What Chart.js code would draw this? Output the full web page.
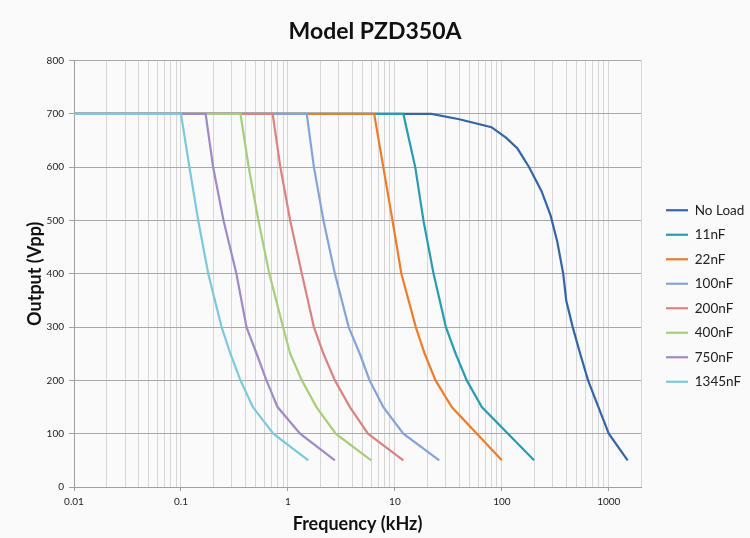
<!DOCTYPE html>
<html>
<head>
<meta charset="utf-8">
<script src="https://cdn.jsdelivr.net/npm/chart.js@4.4.1/dist/chart.umd.min.js"></script>
<style>
  html, body { margin: 0; padding: 0; background: #fafafa; }
  #wrap { width: 750px; height: 538px; position: relative; }
</style>
</head>
<body>
<div id="wrap"><canvas id="freqchart"></canvas></div>
<script>
// frequency (kHz) / output (Vpp)
var noLoadFreq = [0.01, 22, 40, 80, 110, 140, 180, 235, 285, 330, 375, 400, 460, 540, 640, 800, 1000, 1500];
var noLoadVpp  = [700, 700, 690, 675, 655, 635, 600, 555, 510, 460, 400, 350, 300, 250, 200, 150, 100, 50];

var nf11Freq = [0.01, 12, 15.5, 18.5, 23, 30, 37, 47, 65, 200];
var nf11Vpp  = [700, 700, 600, 500, 400, 300, 250, 200, 150, 50];

var nf22Freq = [0.01, 6.4, 7.8, 9.5, 11.5, 15.7, 19, 24, 34, 100];
var nf22Vpp  = [700, 700, 600, 500, 400, 300, 250, 200, 150, 50];

var nf100Freq = [0.01, 1.5, 1.75, 2.15, 2.75, 3.7, 4.7, 5.8, 7.8, 12, 26];
var nf200Freq = [0.01, 0.72, 0.85, 1.05, 1.35, 1.75, 2.15, 2.75, 3.8, 5.6, 12];
var nf400Freq = [0.01, 0.36, 0.43, 0.53, 0.67, 0.9, 1.05, 1.35, 1.85, 2.8, 6];
var nf750Freq = [0.01, 0.17, 0.2, 0.25, 0.33, 0.41, 0.51, 0.63, 0.8, 1.3, 2.75];
var nf1345Freq = [0.01, 0.1, 0.12, 0.145, 0.18, 0.24, 0.29, 0.36, 0.47, 0.73, 1.55];
var capVpp = [700, 700, 600, 500, 400, 300, 250, 200, 150, 100, 50];

var seriesNames = ["No Load", "11nF", "22nF", "100nF", "200nF", "400nF", "750nF", "1345nF"];
var seriesColors = ["#3465a4", "#2a9cb2", "#ee7d2b", "#86a4d9", "#da8482", "#a8cd7c", "#9e8bc5", "#7ec8dd"];

var xMin = 0.01, xMax = 2000;
var yMin = 0, yMax = 800, yStep = 100;

(function () {
    var canvas = document.getElementById('freqchart');

    var freqs = [noLoadFreq, nf11Freq, nf22Freq, nf100Freq, nf200Freq, nf400Freq, nf750Freq, nf1345Freq];
    var vpps = [noLoadVpp, nf11Vpp, nf22Vpp, capVpp, capVpp, capVpp, capVpp, capVpp];

    var datasets = seriesNames.map(function (name, i) {
        return {
            label: name,
            data: freqs[i].map(function (f, j) { return {x: f, y: vpps[i][j]}; }),
            borderColor: seriesColors[i],
            backgroundColor: seriesColors[i],
            borderWidth: 2.2,
            pointRadius: 0,
            tension: 0,
            fill: false,
            // last series sits on top, like the original
            order: seriesNames.length - i
        };
    });

    // log grid: 1..9 x each decade
    var gridValues = [];
    for (var e = -2; e <= 3; e++) {
        for (var m = 1; m <= 9; m++) {
            var v = Number((m * Math.pow(10, e)).toPrecision(3));
            if (v >= xMin && v <= xMax) gridValues.push(v);
        }
    }
    gridValues.push(xMax);

    function isDecade(v) {
        var l = Math.log10(v);
        return Math.abs(l - Math.round(l)) < 1e-9;
    }

    var shiftLegend = {
        id: 'shiftLegend',
        afterInit: function (chart) {
            var lg = chart.legend;
            var fit = lg.fit.bind(lg);
            lg.fit = function () {
                fit();
                this.width = 109;
            };
        },
        afterLayout: function (chart) {
            var lg = chart.legend;
            lg.top += 27;
            lg.bottom += 27;
            lg.left += 14;
            lg.right += 14;
        }
    };

    //create the chart
    var myChart = new Chart(canvas, {
        type: 'line',
        data: {datasets: datasets},
        plugins: [shiftLegend],
        options: {
            responsive: true,
            maintainAspectRatio: false,
            animation: false,
            layout: {padding: 0},
            plugins: {
                title: {
                    display: true,
                    text: 'Model PZD350A',
                    color: '#111',
                    font: {family: 'Lato', size: 23, weight: 'bold'},
                    padding: {top: 18, bottom: 15}
                },
                legend: {
                    position: 'right',
                    align: 'center',
                    reverse: true,
                    labels: {
                        usePointStyle: true,
                        pointStyle: 'line',
                        pointStyleWidth: 22,
                        padding: 11,
                        color: '#222',
                        font: {family: 'Lato', size: 13.5}
                    }
                },
                tooltip: {enabled: false}
            },
            scales: {
                x: {
                    type: 'logarithmic',
                    min: xMin,
                    max: xMax,
                    afterBuildTicks: function (scale) {
                        scale.ticks = gridValues.map(function (v) { return {value: v, major: isDecade(v)}; });
                    },
                    afterFit: function (scale) { scale.height = 51; },
                    ticks: {
                        autoSkip: false,
                        maxRotation: 0,
                        padding: 5,
                        color: '#222',
                        font: {family: 'Lato', size: 10},
                        callback: function (value) { return isDecade(value) ? String(value) : ''; }
                    },
                    grid: {
                        color: '#d6d6d6',
                        lineWidth: 1,
                        tickLength: 4,
                        tickColor: function (ctx) { return ctx.tick && isDecade(ctx.tick.value) ? '#a0a0a0' : 'rgba(0,0,0,0)'; }
                    },
                    border: {color: '#a0a0a0'},
                    title: {
                        display: true,
                        text: 'Frequency (kHz)',
                        color: '#111',
                        font: {family: 'Lato', size: 18, weight: 'bold'},
                        padding: {top: 0, bottom: 3}
                    }
                },
                y: {
                    min: yMin,
                    max: yMax,
                    afterFit: function (scale) { scale.width = 74; },
                    ticks: {
                        stepSize: yStep,
                        padding: 5,
                        color: '#222',
                        font: {family: 'Lato', size: 10}
                    },
                    grid: {
                        color: '#a8a8a8',
                        lineWidth: 1,
                        tickLength: 5,
                        tickColor: '#a0a0a0'
                    },
                    border: {color: '#a0a0a0'},
                    title: {
                        display: true,
                        text: 'Output (Vpp)',
                        color: '#111',
                        font: {family: 'Lato', size: 18, weight: 'bold'},
                        padding: {top: 24, bottom: 0}
                    }
                }
            }
        }
    });
})();
</script>
</body>
</html>
